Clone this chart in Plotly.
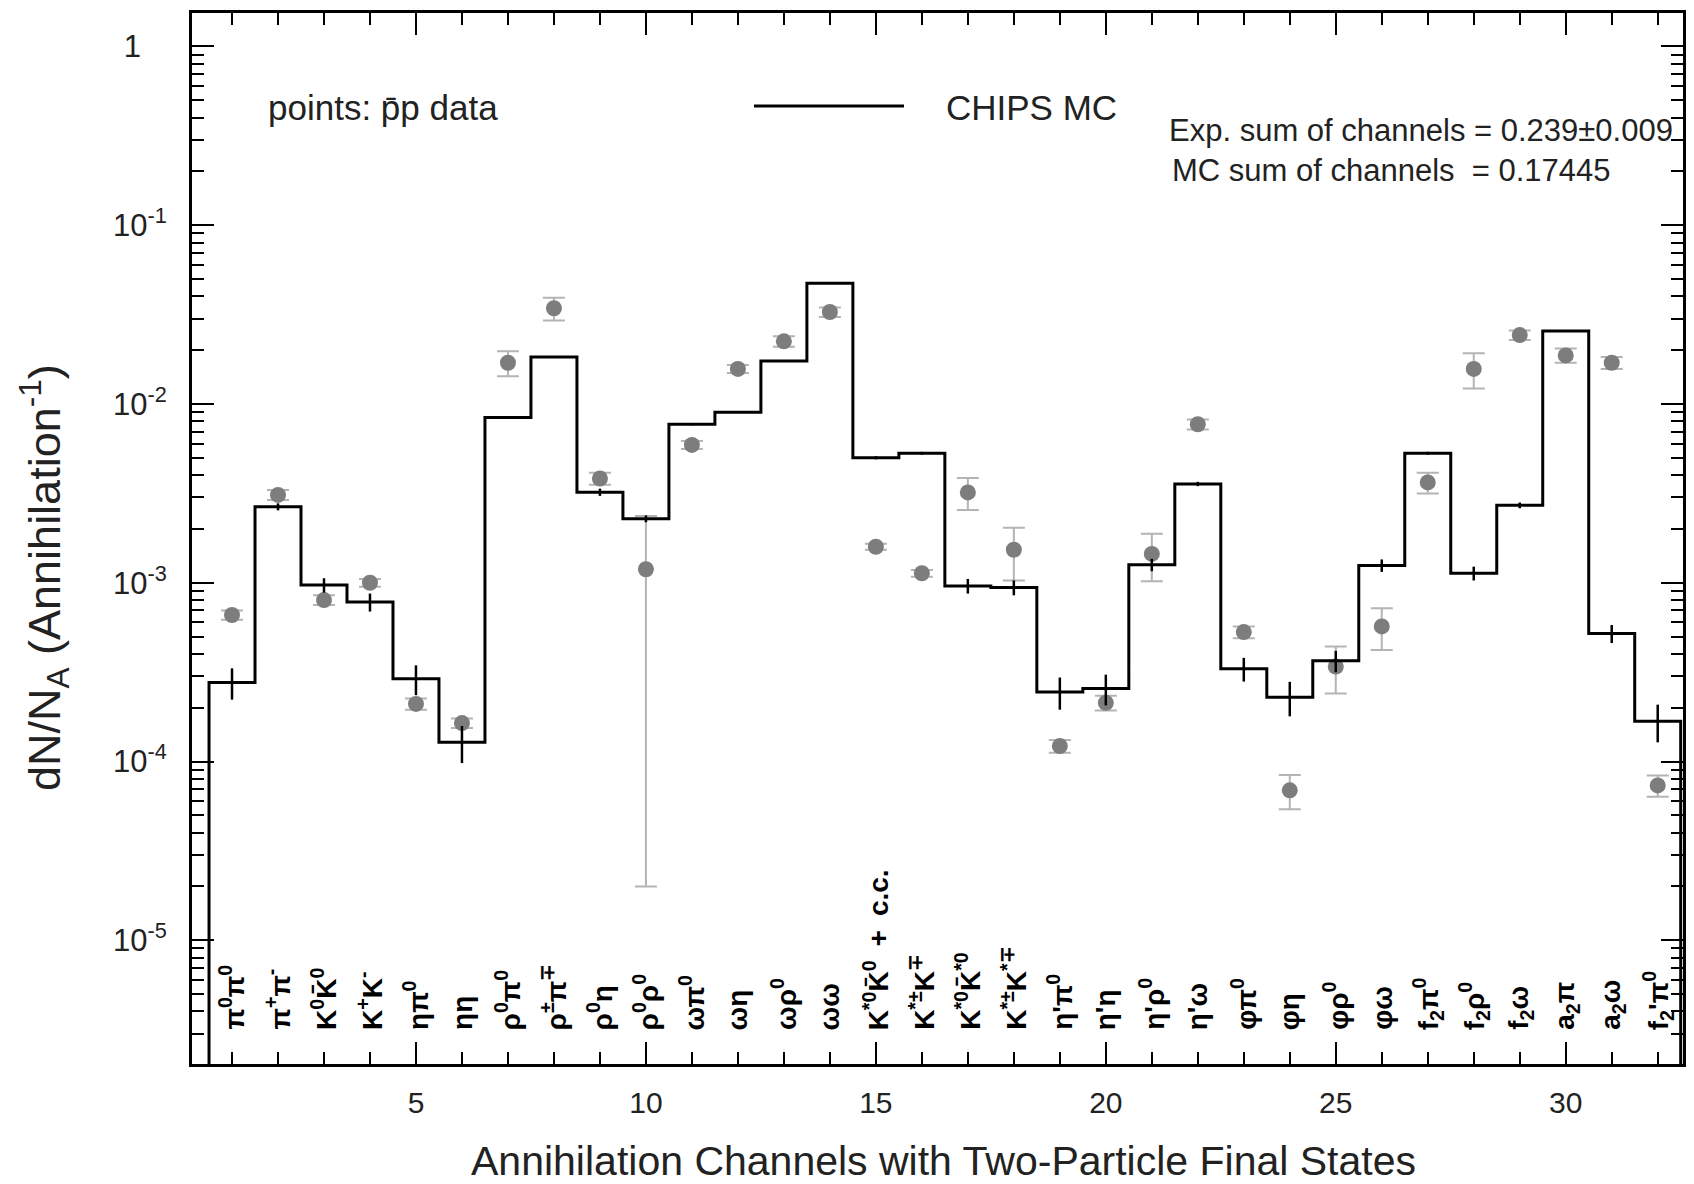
import plotly.graph_objects as go

# ---------------- data ----------------
channels = list(range(1, 33))

channel_labels = [
    "π<sup>0</sup>π<sup>0</sup>", "π<sup>+</sup>π<sup>-</sup>", "K<sup>0</sup>K\u0304<sup>0</sup>",
    "K<sup>+</sup>K<sup>-</sup>", "ηπ<sup>0</sup>", "ηη", "ρ<sup>0</sup>π<sup>0</sup>",
    "ρ<sup>±</sup>π<sup>∓</sup>", "ρ<sup>0</sup>η", "ρ<sup>0</sup>ρ<sup>0</sup>", "ωπ<sup>0</sup>",
    "ωη", "ωρ<sup>0</sup>", "ωω", "K<sup>*0</sup>K\u0304<sup>0</sup>\u2002+\u2002c.c.",
    "K<sup>*±</sup>K<sup>∓</sup>", "K<sup>*0</sup>K\u0304<sup>*0</sup>", "K<sup>*±</sup>K<sup>*∓</sup>",
    "η'π<sup>0</sup>", "η'η", "η'ρ<sup>0</sup>", "η'ω", "φπ<sup>0</sup>", "φη",
    "φρ<sup>0</sup>", "φω", "f<sub>2</sub>π<sup>0</sup>", "f<sub>2</sub>ρ<sup>0</sup>",
    "f<sub>2</sub>ω", "a<sub>2</sub>π", "a<sub>2</sub>ω", "f<sub>2</sub>'π<sup>0</sup>",
]

mc_values = [
    2.77e-4, 2.66e-3, 9.7e-4, 7.8e-4, 2.9e-4, 1.28e-4, 8.4e-3, 1.83e-2,
    3.21e-3, 2.28e-3, 7.7e-3, 9.0e-3, 1.74e-2, 4.73e-2, 5.0e-3, 5.3e-3,
    9.6e-4, 9.4e-4, 2.45e-4, 2.56e-4, 1.26e-3, 3.57e-3, 3.3e-4, 2.29e-4,
    3.66e-4, 1.25e-3, 5.3e-3, 1.13e-3, 2.71e-3, 2.56e-2, 5.2e-4, 1.68e-4,
]
mc_errors = [
    5.5e-5, 1.2e-4, 9e-5, 9e-5, 5.5e-5, 3e-5, 1e-4, 2e-4,
    1.5e-4, 1e-4, 1e-4, 1e-4, 2e-4, 3e-4, 1e-4, 1e-4,
    9e-5, 9e-5, 5e-5, 5e-5, 1e-4, 1e-4, 5e-5, 5e-5,
    5e-5, 1e-4, 1e-4, 1e-4, 1e-4, 2e-4, 6e-5, 4e-5,
]

data_values = [
    6.6e-4, 3.1e-3, 8.0e-4, 1.0e-3, 2.1e-4, 1.64e-4, 1.70e-2, 3.43e-2,
    3.83e-3, 1.19e-3, 5.9e-3, 1.57e-2, 2.24e-2, 3.27e-2, 1.59e-3, 1.13e-3,
    3.2e-3, 1.53e-3, 1.22e-4, 2.13e-4, 1.45e-3, 7.7e-3, 5.3e-4, 6.9e-5,
    3.4e-4, 5.7e-4, 3.64e-3, 1.57e-2, 2.43e-2, 1.87e-2, 1.70e-2, 7.35e-5,
]
data_errors = [
    4e-5, 2e-4, 5e-5, 5e-5, 1.5e-5, 1e-5, 2.7e-3, 5e-3,
    3e-4, 1.17e-3, 3e-4, 8e-4, 1.5e-3, 2e-3, 6e-5, 5e-5,
    6.5e-4, 5e-4, 1e-5, 2e-5, 4.3e-4, 5e-4, 4e-5, 1.5e-5,
    1e-4, 1.5e-4, 4.8e-4, 3.5e-3, 1.5e-3, 1.7e-3, 1.3e-3, 1e-5,
]

y_tick_vals = [1e-5, 1e-4, 1e-3, 1e-2, 1e-1, 1]
y_tick_text = ["10<sup>-5</sup>", "10<sup>-4</sup>", "10<sup>-3</sup>",
               "10<sup>-2</sup>", "10<sup>-1</sup>", "1\u2007\u2008"]
x_tick_vals = [5, 10, 15, 20, 25, 30]

exp_sum_text = "Exp. sum of channels = 0.239±0.009"
mc_sum_text = "MC sum of channels  = 0.17445"

# ---------------- figure ----------------
FONT = "Liberation Sans, Arial, sans-serif"
W, H = 1694, 1184
OFF = 8  # page body margin
ML, MR, MT, MB = 184, 19, 5, 128
PW, PH = W - ML - MR, H - MT - MB

def px_x(page_x):
    return (page_x - OFF - ML) / PW

def px_y(page_y):
    return (H - MB - (page_y - OFF)) / PH

# histogram outline built from bin edges
hx, hy = [channels[0] - 0.5], [1e-9]
for c, v in zip(channels, mc_values):
    hx += [c - 0.5, c + 0.5]
    hy += [v, v]
hx.append(channels[-1] + 0.5)
hy.append(1e-9)

fig = go.Figure()

fig.add_trace(go.Scatter(
    x=channels, y=data_values, mode="markers",
    marker=dict(color="#7d7d7d", size=16, line=dict(width=0)),
    error_y=dict(type="data", array=data_errors, color="#b4b4b4",
                 thickness=2, width=11),
    showlegend=False,
))

fig.add_trace(go.Scatter(
    x=hx, y=hy, mode="lines", line=dict(color="black", width=3),
    showlegend=False,
))

fig.add_trace(go.Scatter(
    x=channels, y=mc_values, mode="markers",
    marker=dict(color="black", size=1, opacity=0),
    error_y=dict(type="data", array=mc_errors, color="black",
                 thickness=2.5, width=0),
    showlegend=False,
))

minor_y = [k * 10.0 ** e for e in range(-6, 1) for k in range(2, 10)]

fig.update_xaxes(
    range=[0.13, 32.55], tickmode="array", tickvals=x_tick_vals,
    ticks="inside", ticklen=22, tickwidth=2, tickcolor="black",
    showline=True, linecolor="black", linewidth=3, mirror="allticks",
    showgrid=False, zeroline=False, automargin=False,
    minor=dict(tickmode="linear", tick0=0, dtick=1, ticks="inside",
               ticklen=12, tickwidth=2, tickcolor="black", showgrid=False),
    tickfont=dict(family=FONT, size=30, color="#222"),
    ticklabelstandoff=10,
)
fig.update_yaxes(
    type="log", range=[-5.692, 0.187], tickmode="array",
    tickvals=y_tick_vals, ticktext=y_tick_text,
    ticks="inside", ticklen=22, tickwidth=2, tickcolor="black",
    showline=True, linecolor="black", linewidth=3, mirror="allticks",
    showgrid=False, zeroline=False, automargin=False,
    minor=dict(tickmode="array", tickvals=minor_y, ticks="inside",
               ticklen=12, tickwidth=2, tickcolor="black", showgrid=False),
    tickfont=dict(family=FONT, size=31, color="#222"),
    ticklabelstandoff=16,
)

ann = []
# channel labels (rotated)
for c, lab in zip(channels, channel_labels):
    ann.append(dict(x=c, y=px_y(1032), xref="x", yref="paper", text="<b>" + lab + "</b>",
                    textangle=-90, showarrow=False, xanchor="center", yanchor="bottom",
                    font=dict(family=FONT, size=28, color="black")))

ann.append(dict(x=px_x(266), y=px_y(108), xref="paper", yref="paper",
                text="points: p\u0304p data", showarrow=False,
                xanchor="left", yanchor="middle",
                font=dict(family=FONT, size=35, color="#222")))
ann.append(dict(x=px_x(944), y=px_y(108), xref="paper", yref="paper",
                text="CHIPS MC", showarrow=False, xanchor="left", yanchor="middle",
                font=dict(family=FONT, size=35, color="#222")))
ann.append(dict(x=px_x(1167), y=px_y(130), xref="paper", yref="paper",
                text=exp_sum_text, showarrow=False, xanchor="left", yanchor="middle",
                font=dict(family=FONT, size=31, color="#222")))
ann.append(dict(x=px_x(1170), y=px_y(171), xref="paper", yref="paper",
                text=mc_sum_text, showarrow=False, xanchor="left", yanchor="middle",
                font=dict(family=FONT, size=31, color="#222")))
# axis titles
ann.append(dict(x=px_x(44), y=px_y(578), xref="paper", yref="paper",
                text="dN/N<sub>A</sub> (Annihilation<sup>-1</sup>)", textangle=-90,
                showarrow=False, xanchor="center", yanchor="middle",
                font=dict(family=FONT, size=45, color="#222")))
ann.append(dict(x=px_x(943), y=px_y(1161), xref="paper", yref="paper",
                text="Annihilation Channels with Two-Particle Final States",
                showarrow=False, xanchor="center", yanchor="middle",
                font=dict(family=FONT, size=41, color="#222")))

fig.update_layout(
    width=W, height=H,
    margin=dict(l=ML, r=MR, t=MT, b=MB, autoexpand=False),
    paper_bgcolor="white", plot_bgcolor="white",
    annotations=ann,
    shapes=[dict(type="line", xref="paper", yref="paper",
                 x0=px_x(754), x1=px_x(904), y0=px_y(106), y1=px_y(106),
                 line=dict(color="black", width=3))],
)

fig.write_html("out.html")
